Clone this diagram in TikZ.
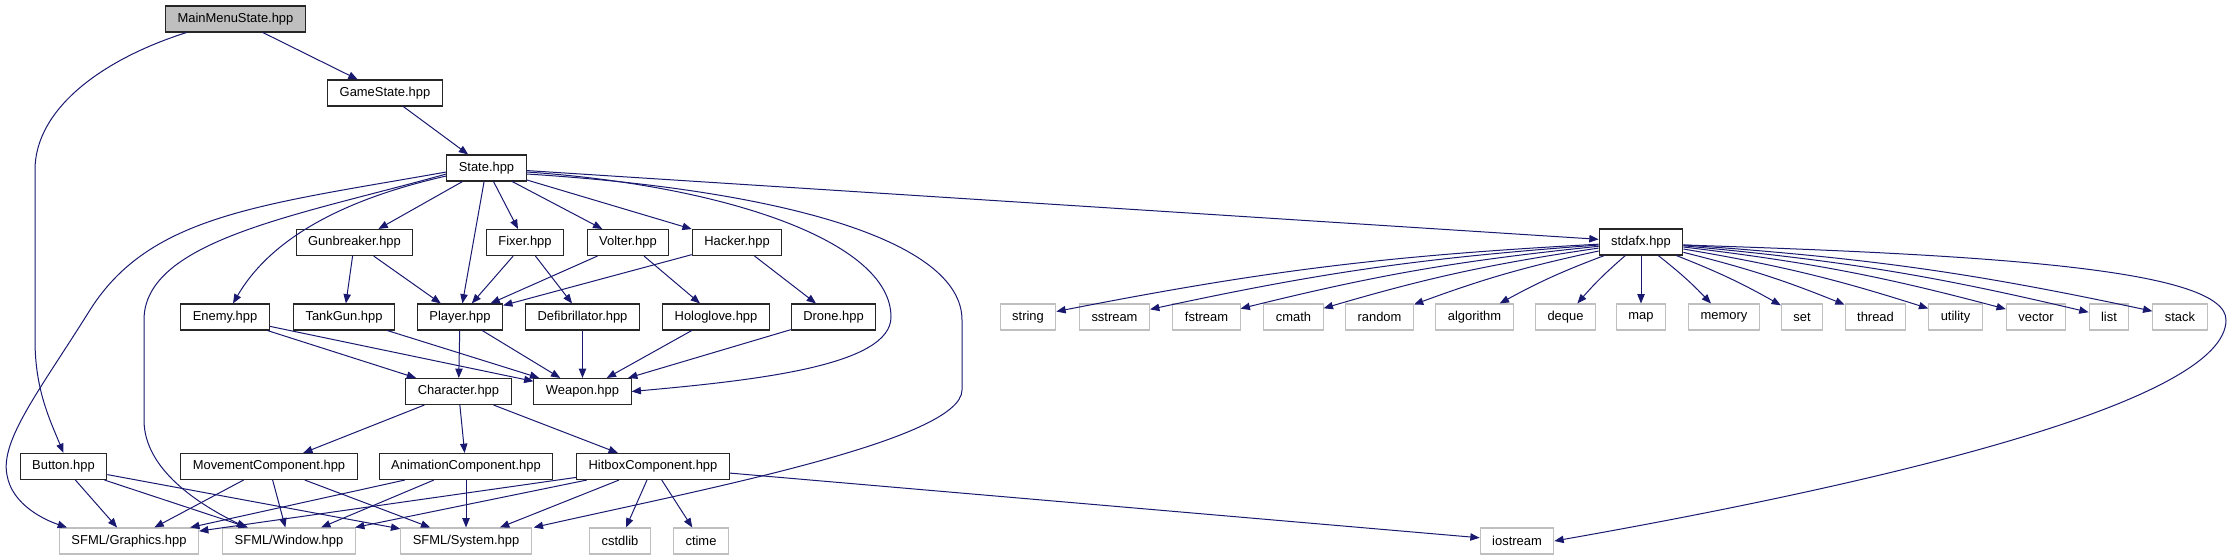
\documentclass[tikz,border=0pt]{standalone}
\usepackage{fontspec}
\setmainfont{Liberation Sans}
\usepackage{tikz}
\usetikzlibrary{arrows.meta, calc}
\definecolor{EdgeBlue}{RGB}{25,25,112}
\definecolor{ExtGray}{RGB}{191,191,191}

\begin{document}
\begin{tikzpicture}[
  x=0.75pt, y=-0.75pt,
  font=\fontsize{9.7}{11}\selectfont,
  file/.style={rectangle, draw=black!85, line width=0.8pt, fill=white,
               minimum height=19.5pt, inner xsep=9pt, inner ysep=0pt},
  rootfile/.style={file, fill=ExtGray},
  sysfile/.style={file, draw=ExtGray},
  inc/.style={-{Triangle[length=7pt, width=5.5pt]}, EdgeBlue, line width=0.75pt},
]
\useasboundingbox (0,0) rectangle (2231,560);

% top of the graph
\node[rootfile] (mms) at (235.5,19) {MainMenuState.hpp};
\node[file] (gstate) at (385,93) {GameState.hpp};
\node[file] (state) at (486.5,168) {State.hpp};

% classes
\node[file] (gunb)   at (354.5,242.5) {Gunbreaker.hpp};
\node[file] (fixer)  at (525,242.5)   {Fixer.hpp};
\node[file] (volter) at (628,242.5)   {Volter.hpp};
\node[file] (hacker) at (737,242.5)   {Hacker.hpp};
\node[file] (stdafx) at (1641,242)    {stdafx.hpp};
\node[file] (enemy)   at (225,317)   {Enemy.hpp};
\node[file] (tankgun) at (344,317)   {TankGun.hpp};
\node[file] (player)  at (460,317)   {Player.hpp};
\node[file] (defib)   at (582.5,317) {Defibrillator.hpp};
\node[file] (hglove)  at (716,317)   {Hologlove.hpp};
\node[file] (drone)   at (833.5,317) {Drone.hpp};
\node[file] (character) at (458.5,391.5) {Character.hpp};
\node[file] (weapon)    at (582.5,391.5) {Weapon.hpp};
\node[file] (button)   at (63.5,466.5) {Button.hpp};
\node[file] (movecomp) at (269,466.5)  {MovementComponent.hpp};
\node[file] (animcomp) at (466,466.5)  {AnimationComponent.hpp};
\node[file] (hitcomp)  at (653,466.5)  {HitboxComponent.hpp};

% system headers
\node[sysfile] (sfgfx)    at (129,541)  {SFML/Graphics.hpp};
\node[sysfile] (sfwin)    at (289,541)  {SFML/Window.hpp};
\node[sysfile] (sfsys)    at (466,541)  {SFML/System.hpp};
\node[sysfile] (cstdlib)  at (620,541)  {cstdlib};
\node[sysfile] (ctime)    at (701,541)  {ctime};
\node[sysfile] (iostream) at (1517,541) {iostream};
\foreach \hdr/\xpos in {string/1028, sstream/1114.5, fstream/1206.5, cmath/1293.5,
    random/1379.5, algorithm/1474.5, deque/1565.5, map/1641, memory/1724, set/1802,
    thread/1875.5, utility/1955.5, vector/2036, list/2109, stack/2180}
  \node[sysfile] (\hdr) at (\xpos,317) {\hdr};

% includes
\draw[inc] (mms) -- (gstate);
\draw[inc] ($(mms.south)+(-49,0)$) .. controls (100,60) and (35,110) .. (35,170)
  -- (35,340) .. controls (35,390) and (50,420) .. (button.north);
\draw[inc] (gstate) -- (state);

\draw[inc] (state) -- (gunb);
\draw[inc] (state) -- (fixer);
\draw[inc] (state) -- (volter);
\draw[inc] (state) -- (hacker);
\draw[inc] (state) -- (player);
\draw[inc] (state) -- (stdafx);
\draw[inc] ($(state.west)+(0,4)$) .. controls (260,205) and (150,215) .. (90,310)
  .. controls (40,390) and (0,440) .. (7,475)
  .. controls (12,505) and (45,520) .. ($(sfgfx.north west)+(8,0)$);
\draw[inc] ($(state.west)+(0,6)$) .. controls (300,215) and (144,240) .. (144,320)
  -- (144,420) .. controls (144,470) and (200,505) .. ($(sfwin.north west)+(24,0)$);
\draw[inc] ($(state.west)+(0,8)$) .. controls (340,200) and (270,240) .. ($(enemy.north)+(8,0)$);
\draw[inc] ($(state.east)+(0,4)$) .. controls (720,185) and (891,240) .. (891,317)
  .. controls (891,365) and (760,380) .. (weapon.east);
\draw[inc] ($(state.east)+(0,6)$) .. controls (780,190) and (962,240) .. (962,320)
  -- (962,390) .. controls (962,440) and (700,490) .. ($(sfsys.north east)+(2,0)$);

\draw[inc] (gunb) -- (tankgun);
\draw[inc] (gunb) -- (player);
\draw[inc] (fixer) -- (player);
\draw[inc] (fixer) -- (defib);
\draw[inc] (volter) -- (player);
\draw[inc] (volter) -- (hglove);
\draw[inc] (hacker) -- (player);
\draw[inc] (hacker) -- (drone);

\draw[inc] (enemy) -- (character);
\draw[inc] (enemy) -- (weapon);
\draw[inc] (tankgun) -- (weapon);
\draw[inc] (player) -- (character);
\draw[inc] (player) -- (weapon);
\draw[inc] (defib) -- (weapon);
\draw[inc] (hglove) -- (weapon);
\draw[inc] (drone) -- (weapon);

\draw[inc] (character) -- (movecomp);
\draw[inc] (character) -- (animcomp);
\draw[inc] (character) -- (hitcomp);

\foreach \src in {button, movecomp, animcomp, hitcomp}
  \foreach \dst in {sfgfx, sfwin, sfsys}
    \draw[inc] (\src) -- (\dst);
\draw[inc] (hitcomp) -- (cstdlib);
\draw[inc] (hitcomp) -- (ctime);
\draw[inc] (hitcomp) -- (iostream);

% stdafx fan-out
\foreach \hdr in {string, sstream, fstream, cmath, random, algorithm, deque}
  \draw[inc] (stdafx) to[bend right=4] (\hdr);
\draw[inc] (stdafx) -- (map);
\foreach \hdr in {memory, set, thread, utility, vector, list, stack}
  \draw[inc] (stdafx) to[bend left=4] (\hdr);
\draw[inc] ($(stdafx.east)+(0,3)$) .. controls (2000,255) and (2226,270) .. (2226,320)
  .. controls (2226,400) and (1900,480) .. (iostream.east);

\end{tikzpicture}
\end{document}
